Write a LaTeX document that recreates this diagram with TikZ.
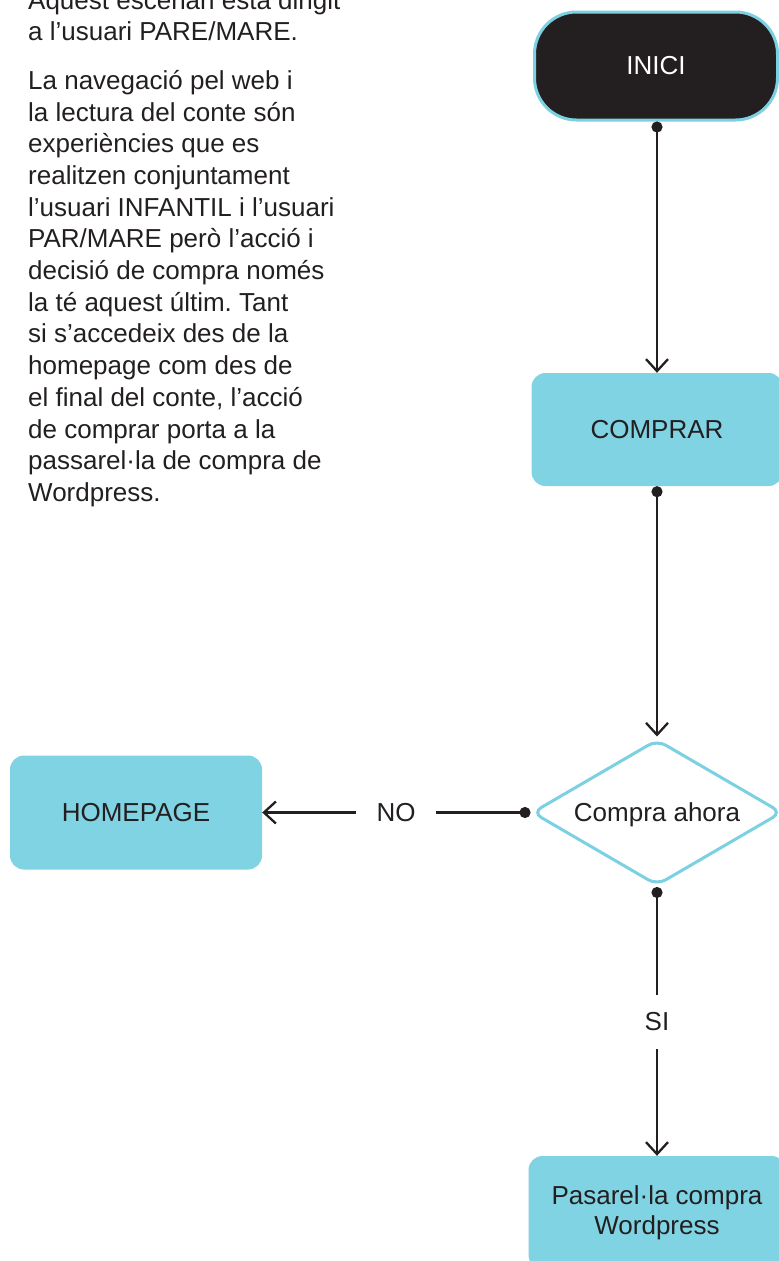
\documentclass[tikz,border=0pt]{standalone}
\usepackage{fontspec}
\setmainfont{Liberation Sans}
\usetikzlibrary{arrows.meta,shapes.geometric}
\definecolor{ink}{HTML}{231F20}
\definecolor{cyanfill}{HTML}{80D3E3}
\definecolor{cyanline}{HTML}{7BD0E1}
\frenchspacing
\begin{document}
\begin{tikzpicture}[x=1pt,y=-1pt,
  txt/.style={font=\fontsize{26}{30}\selectfont, text=ink, inner sep=0pt},
  para/.style={txt, anchor=base west},
  box/.style={txt, rectangle, rounded corners=14pt, fill=cyanfill, minimum width=251pt, minimum height=113pt, align=center},
  wire/.style={draw=ink, line width=2.3pt},
  conn/.style={wire, {Circle[length=11pt]}-{Straight Barb[length=12pt,width=22pt]}},
  dotline/.style={wire, {Circle[length=11pt]}-},
  arrline/.style={wire, -{Straight Barb[length=12pt,width=22pt]}}]
\useasboundingbox (0,0) rectangle (779,1261);
\clip (0,0) rectangle (779,1261);

% description text
\node[para] (p1) at (28,9) {Aquest escenari està dirigit};
\node[para] (p2) at (28,40.7) {a l’usuari PARE/MARE.};
\node[para] (p3) at (28,89.3) {La navegació pel web i};
\node[para] (p4) at (28,121.0) {la lectura del conte són};
\node[para] (p5) at (28,152.7) {experiències que es};
\node[para] (p6) at (28,184.4) {realitzen conjuntament};
\node[para] (p7) at (28,216.1) {l’usuari INFANTIL i l’usuari};
\node[para] (p8) at (28,247.8) {PAR/MARE però l’acció i};
\node[para] (p9) at (28,279.5) {decisió de compra només};
\node[para] (p10) at (28,311.2) {la té aquest últim. Tant};
\node[para] (p11) at (28,342.9) {si s’accedeix des de la};
\node[para] (p12) at (28,374.6) {homepage com des de};
\node[para] (p13) at (28,406.3) {el final del conte, l’acció};
\node[para] (p14) at (28,438.0) {de comprar porta a la};
\node[para] (p15) at (28,469.7) {passarel·la de compra de};
\node[para] (p16) at (28,501.4) {Wordpress.};

% flow nodes
\node[txt, text=white, fill=ink, draw=cyanline, line width=3pt, rounded corners=42pt,
      minimum width=243pt, minimum height=108pt] (inici) at (656,66) {INICI};
\node[box] (comprar) at (657,429.5) {COMPRAR};
\node[txt, diamond, draw=cyanline, fill=white, line width=3pt, rounded corners=10pt,
      minimum width=250pt, minimum height=146pt, aspect=1.7, text depth=0pt] (dec) at (657,812.5) {Compra ahora};
\node[box, minimum width=252pt, minimum height=114pt] (home) at (136,812.5) {HOMEPAGE};
\node[box, minimum width=257pt] (pas) at (657,1212.5) {Pasarel·la compra\\Wordpress};
\node[txt, inner xsep=20.5pt] (no) at (396,812.5) {NO};
\node[txt, inner ysep=18pt] (si) at (657,1022) {SI};

% connectors
\draw[conn] (inici.south -| comprar.north) -- (comprar.north);
\draw[conn, shorten >=1.5pt] (comprar.south) -- (dec.north);
\draw[dotline] (dec.west) -- (no.east);
\draw[arrline] (no.west) -- (home.east);
\draw[dotline] (dec.south) -- (si.north);
\draw[arrline] (si.south) -- (pas.north);
\end{tikzpicture}
\end{document}
